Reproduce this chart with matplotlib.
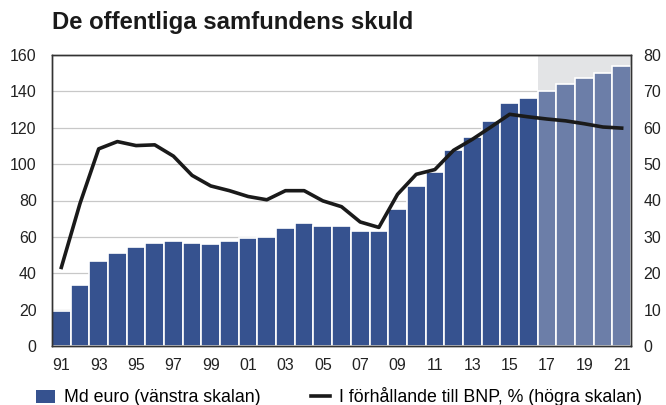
import matplotlib
matplotlib.use("Agg")
import matplotlib.pyplot as plt
import numpy as np
from matplotlib.patches import Patch
from matplotlib.lines import Line2D

plt.rcParams['font.family'] = ['Liberation Sans', 'DejaVu Sans']

years = list(range(1991, 2022))
debt_bn_eur = [19.2, 33.3, 46.5, 51.1, 54.4, 56.6, 58.0, 56.6, 56.0, 58.0,
               59.3, 59.9, 65.0, 67.7, 65.9, 66.1, 63.5, 63.3, 75.6, 88.2,
               95.6, 108.0, 115.0, 123.9, 133.6, 136.2, 140.4, 144.1, 147.4, 149.9,
               153.8]
debt_pct_gdp = [21.6, 39.2, 54.2, 56.2, 55.1, 55.3, 52.2, 46.9, 44.0, 42.7,
                41.1, 40.2, 42.7, 42.7, 39.9, 38.3, 34.1, 32.6, 41.7, 47.2,
                48.5, 53.8, 56.8, 60.2, 63.7, 63.0, 62.4, 61.9, 61.1, 60.2,
                59.9]
first_forecast_year = 2017
xtick_years = list(range(1991, 2022, 2))
xtick_labels = [f"{y % 100:02d}" for y in xtick_years]

title = "De offentliga samfundens skuld"
bar_label = "Md euro (vänstra skalan)"
line_label = "I förhållande till BNP, % (högra skalan)"

dark_blue = "#36528f"
light_blue = "#6c7ea8"

fig = plt.figure(figsize=(6.66, 4.05), dpi=100)
ax = fig.add_axes([52 / 666, 1 - 346 / 405, 579 / 666, 291 / 405])
ax2 = ax.twinx()

x = np.array(years)
colors = [light_blue if y >= first_forecast_year else dark_blue for y in years]
ax.axvspan(first_forecast_year - 0.5, years[-1] + 0.5, color="#e3e4e6", zorder=0, lw=0)
ax.bar(x, debt_bn_eur, width=1.0, color=colors, edgecolor="white", linewidth=1.2, zorder=2)
ax.set_xlim(years[0] - 0.5, years[-1] + 0.5)
ax.set_ylim(0, 160)
ax.set_yticks(range(0, 161, 20))
ax.yaxis.grid(True, color="#c8c8c8", linewidth=0.9, zorder=1)
ax.set_axisbelow(True)
ax.set_xticks(xtick_years)
ax.set_xticklabels(xtick_labels)
ax.tick_params(axis="both", length=0, labelsize=11.5, colors="#222222")
ax.tick_params(axis="x", pad=9)
ax.tick_params(axis="y", pad=11)

ax2.plot(x, debt_pct_gdp, color="#1a1a1a", linewidth=2.6, zorder=3,
         solid_joinstyle="round")
ax2.set_ylim(0, 80)
ax2.set_yticks(range(0, 81, 10))
ax2.tick_params(axis="y", length=0, labelsize=11.5, colors="#222222", pad=9)

for a in (ax, ax2):
    for s in a.spines.values():
        s.set_color("#333333")
        s.set_linewidth(1.0)

fig.text(52 / 666, 1 - 23 / 405, title, fontsize=17.2, fontweight="bold",
         va="center", ha="left", color="#1a1a1a")

handles = [Patch(facecolor=dark_blue, edgecolor="none"),
           Line2D([0], [0], color="#1a1a1a", linewidth=2.6)]
fig.legend(handles, [bar_label, line_label], loc="center",
           bbox_to_anchor=(339 / 666, 1 - 397 / 405), ncol=2, frameon=False,
           fontsize=12.8, handlelength=1.1, handleheight=0.8, columnspacing=2.8,
           handletextpad=0.5, borderpad=0)

fig.savefig("out.png", dpi=100)
